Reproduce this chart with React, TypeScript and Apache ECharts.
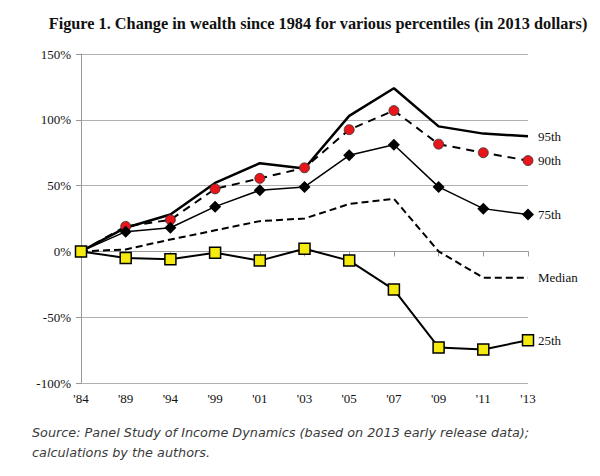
import React, { useEffect, useRef } from "react";
import * as echarts from "echarts";

const years = ["'84", "'89", "'94", "'99", "'01", "'03", "'05", "'07", "'09", "'11", "'13"];
const p95 = [0, 18, 28, 52, 67, 63, 103, 124, 95, 89.5, 87.5];
const p90 = [0, 19, 24, 47.5, 55.5, 63.5, 92.5, 107, 81.5, 75, 69];
const p75 = [0, 15, 18, 34, 46.5, 49, 73, 81, 49, 32.5, 28];
const median = [0, 1.5, 9, 16, 23, 25, 36, 40, 0, -20, -20];
const p25 = [0, -5, -6, -1, -7, 2, -7, -29, -73, -74.5, -67.5];
const yTicks = [-100, -50, 0, 50, 100, 150];

const title = "Figure 1. Change in wealth since 1984 for various percentiles (in 2013 dollars)";
const sourceLines = [
  "Source: Panel Study of Income Dynamics (based on 2013 early release data);",
  "calculations by the authors.",
];

const serif = "'Liberation Serif', 'Times New Roman', serif";

export default function App() {
  const ref = useRef<HTMLDivElement>(null);
  useEffect(() => {
    document.body.style.margin = "0";
    const chart = echarts.init(ref.current!, null, { renderer: "svg" });
    const endLabel = (name: string, dy = 0) => ({
      show: true,
      formatter: name,
      color: "#111",
      fontFamily: serif,
      fontSize: 13,
      distance: 10,
      offset: [0, dy],
    });
    chart.setOption({
      animation: false,
      backgroundColor: "#fff",
      title: {
        text: title,
        left: 313,
        textAlign: "center",
        top: 10,
        textStyle: { fontFamily: serif, fontWeight: "bold", fontSize: 16.3, color: "#111" },
      },
      graphic: sourceLines.map((t, i) => ({
        type: "text",
        left: 32,
        top: 426 + i * 20,
        style: {
          text: t,
          fontFamily: "'DejaVu Sans', Verdana, sans-serif",
          fontStyle: "italic",
          fontSize: 12.8,
          fill: "#3a3a3a",
        },
      })),
      grid: { left: 81, right: 72, top: 54, bottom: 93, containLabel: false },
      xAxis: {
        type: "category",
        data: years,
        boundaryGap: false,
        axisLine: { show: true, lineStyle: { color: "#999", width: 1 } },
        axisTick: { show: true, alignWithLabel: true, length: 5, lineStyle: { color: "#999" } },
        axisLabel: { fontFamily: serif, fontSize: 13, color: "#111", margin: 9 },
        splitLine: { show: false },
      },
      yAxis: {
        type: "value",
        min: -100,
        max: 150,
        interval: 50,
        axisLine: { show: true, lineStyle: { color: "#999", width: 1 } },
        axisTick: { show: true, length: 5, lineStyle: { color: "#999" } },
        axisLabel: {
          fontFamily: serif,
          fontSize: 13,
          color: "#111",
          margin: 10,
          formatter: (v: number) => (yTicks.includes(v) ? `${v}%` : ""),
        },
        splitLine: { show: true, lineStyle: { color: "#b0b0b0", width: 1 } },
      },
      series: [
        {
          name: "95th",
          type: "line",
          data: p95,
          showSymbol: false,
          symbol: "none",
          lineStyle: { color: "#000", width: 2.5 },
          endLabel: endLabel("95th"),
          z: 2,
        },
        {
          name: "90th",
          type: "line",
          data: p90,
          symbol: "circle",
          symbolSize: 10,
          itemStyle: { color: "#e8161b", borderColor: "#333", borderWidth: 0.8 },
          lineStyle: { color: "#000", width: 2, type: [8, 6] },
          endLabel: endLabel("90th"),
          z: 3,
        },
        {
          name: "75th",
          type: "line",
          data: p75,
          symbol: "diamond",
          symbolSize: 12,
          itemStyle: { color: "#000", borderColor: "#000", borderWidth: 0 },
          lineStyle: { color: "#000", width: 1.5 },
          endLabel: endLabel("75th"),
          z: 4,
        },
        {
          name: "Median",
          type: "line",
          data: median,
          symbol: "none",
          lineStyle: { color: "#000", width: 2, type: [7, 4] },
          endLabel: endLabel("Median"),
          z: 2,
        },
        {
          name: "25th",
          type: "line",
          data: p25,
          symbol: "rect",
          symbolSize: 11,
          itemStyle: { color: "#f5ea10", borderColor: "#000", borderWidth: 1.5 },
          lineStyle: { color: "#000", width: 2 },
          endLabel: endLabel("25th"),
          z: 5,
        },
      ],
    });
    return () => chart.dispose();
  }, []);
  return <div ref={ref} style={{ width: 600, height: 476 }} />;
}
